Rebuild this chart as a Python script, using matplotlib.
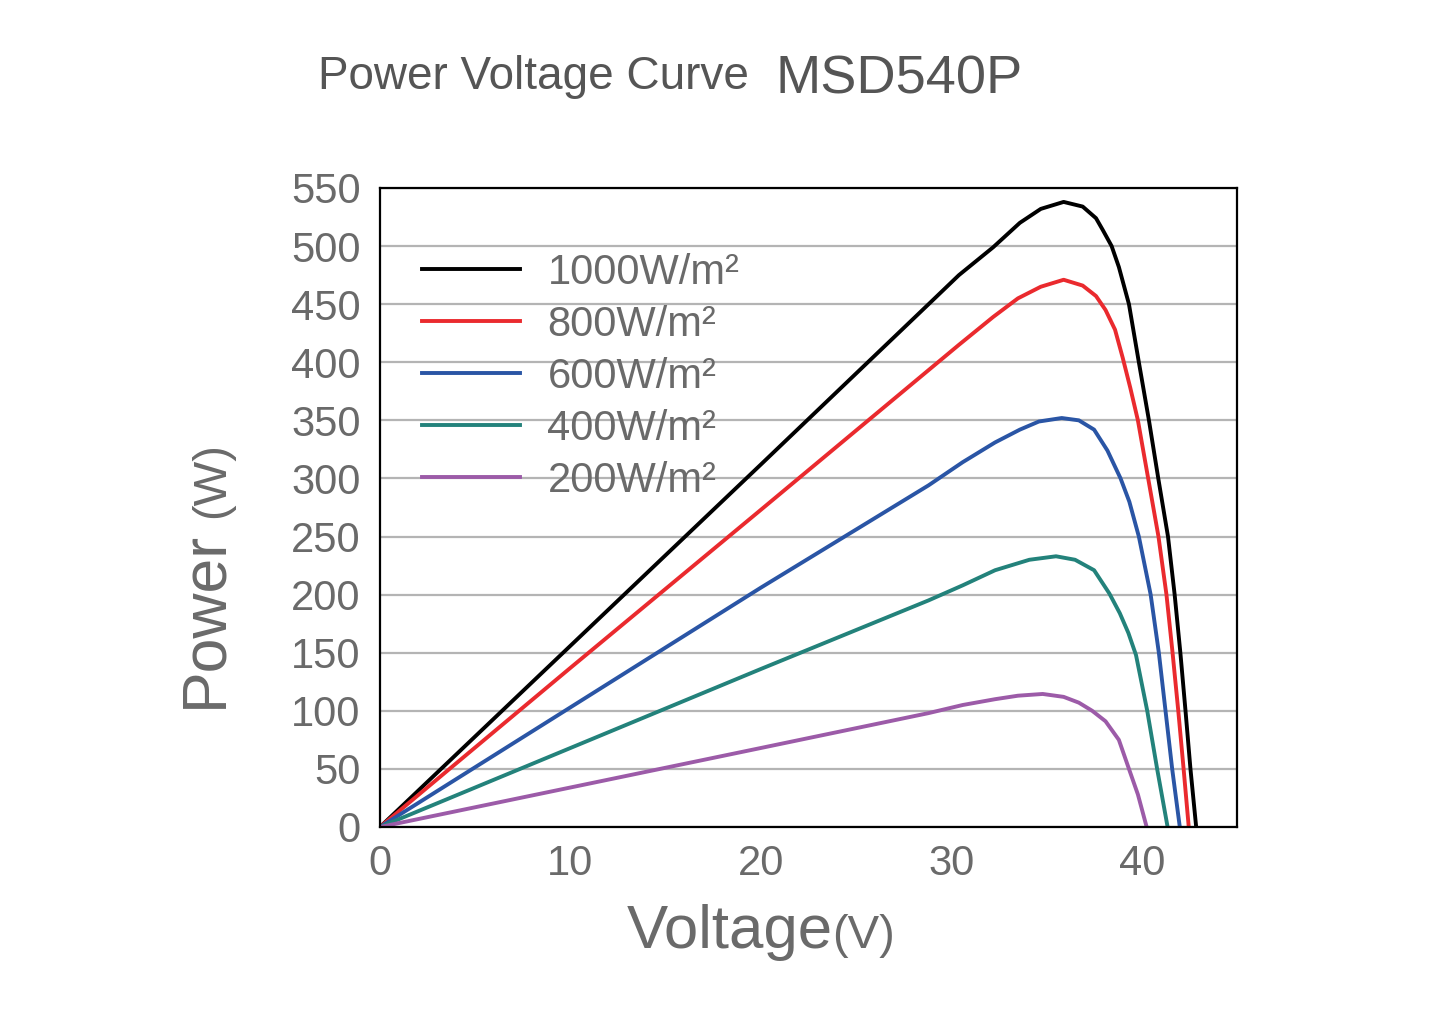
import matplotlib
matplotlib.use("Agg")
import matplotlib.pyplot as plt

# ---- data (voltage in V, power in W) ----
v_1000 = [0, 10, 20, 29, 30.4, 32.2, 33.6, 34.7, 35.9, 36.9, 37.6, 37.95, 38.42,
          38.8, 39.33, 39.85, 40.38, 40.87, 41.38, 41.73, 42.03, 42.3, 42.56, 42.86]
p_1000 = [0, 156, 312, 453, 475, 499, 520, 532, 538, 534, 524, 514, 500,
          482, 450, 400, 350, 300, 250, 200, 150, 100, 50, 0]

v_800 = [0, 10, 20, 30.4, 32.2, 33.5, 34.7, 35.9, 36.9, 37.6, 38.1, 38.6,
         39.0, 39.4, 39.8, 40.34, 40.88, 41.3, 41.62, 41.92, 42.2, 42.47]
p_800 = [0, 137, 273, 415, 439, 455, 465, 471, 466, 457, 445, 428,
         404, 378, 350, 300, 250, 200, 150, 100, 50, 0]

v_600 = [0, 10, 20, 28.8, 30.6, 32.3, 33.6, 34.6, 35.8, 36.7, 37.5, 38.2,
         38.89, 39.35, 39.85, 40.47, 40.9, 41.25, 41.6, 42.0]
p_600 = [0, 103, 206, 294, 314, 331, 342, 349, 352, 350, 342, 324,
         300, 280, 250, 200, 150, 100, 50, 0]

v_400 = [0, 10, 20, 28.8, 30.6, 32.3, 34.1, 35.5, 36.5, 37.5, 38.3, 38.85,
         39.3, 39.7, 40.29, 40.81, 41.36]
p_400 = [0, 68, 136, 195, 208, 221, 230, 233, 230, 221, 201, 184,
         167, 148, 100, 50, 0]

v_200 = [0, 10, 20, 28.8, 30.6, 32.3, 33.5, 34.8, 35.9, 36.7, 37.4, 38.1,
         38.8, 39.33, 39.8, 40.26]
p_200 = [0, 34, 68, 98, 105, 110, 113, 114.5, 112, 107, 100, 91,
         75, 50, 28, 0]

labels = ["1000W/m²", "800W/m²", "600W/m²", "400W/m²", "200W/m²"]
colors = ["#000000", "#ea2a2e", "#2a55a5", "#23827b", "#9c5ba8"]

x_ticks = [0, 10, 20, 30, 40]
y_ticks = list(range(0, 551, 50))

# ---- figure ----
plt.rcParams['font.family'] = ['Liberation Sans', 'DejaVu Sans']
gray = "#6a6a6a"

fig = plt.figure(figsize=(14.45, 10.34), dpi=100)
ax = fig.add_axes([0.263, 0.2002, 0.593, 0.618])

curves = [(v_1000, p_1000), (v_800, p_800), (v_600, p_600), (v_400, p_400), (v_200, p_200)]
for (v, p), lab, c in zip(curves, labels, colors):
    ax.plot(v, p, color=c, lw=2.8, label=lab, solid_joinstyle='round')

ax.set_xlim(0, 45)
ax.set_ylim(0, 550)
ax.set_xticks(x_ticks)
ax.set_yticks(y_ticks)
ax.tick_params(length=0, labelsize=30, labelcolor=gray)
ax.tick_params(axis='y', pad=14)
ax.tick_params(axis='x', pad=12)
ax.yaxis.grid(True, color="#b4b4b4", lw=1.6)
ax.set_axisbelow(True)
for s in ax.spines.values():
    s.set_linewidth(1.6)
    s.set_color("black")

leg = ax.legend(loc="upper left", bbox_to_anchor=(0.03, 0.925), frameon=False,
                fontsize=30, handlelength=2.35, handletextpad=0.65,
                labelspacing=0.29, borderaxespad=0)
for t in leg.get_texts():
    t.set_color(gray)

# axis labels
fig.text(627 / 1445, 1 - 948 / 1034, "Voltage", fontsize=44.5, color=gray,
         ha="left", va="baseline")
fig.text(832 / 1445, 1 - 948 / 1034, "(V)", fontsize=34, color=gray,
         ha="left", va="baseline")
fig.text(234 / 1445, 1 - 708 / 1034, "Power", fontsize=45, color=gray,
         rotation=90, ha="right", va="bottom")
fig.text(234 / 1445, 1 - 518 / 1034, "(W)", fontsize=34, color=gray,
         rotation=90, ha="right", va="bottom")

# title
fig.text(318 / 1445, 1 - 89 / 1034, "Power Voltage Curve", fontsize=33,
         color="#555555", ha="left", va="baseline")
fig.text(775 / 1445, 1 - 93 / 1034, "MSD540P", fontsize=39,
         color="#555555", ha="left", va="baseline")

fig.savefig("out.png", dpi=100)
